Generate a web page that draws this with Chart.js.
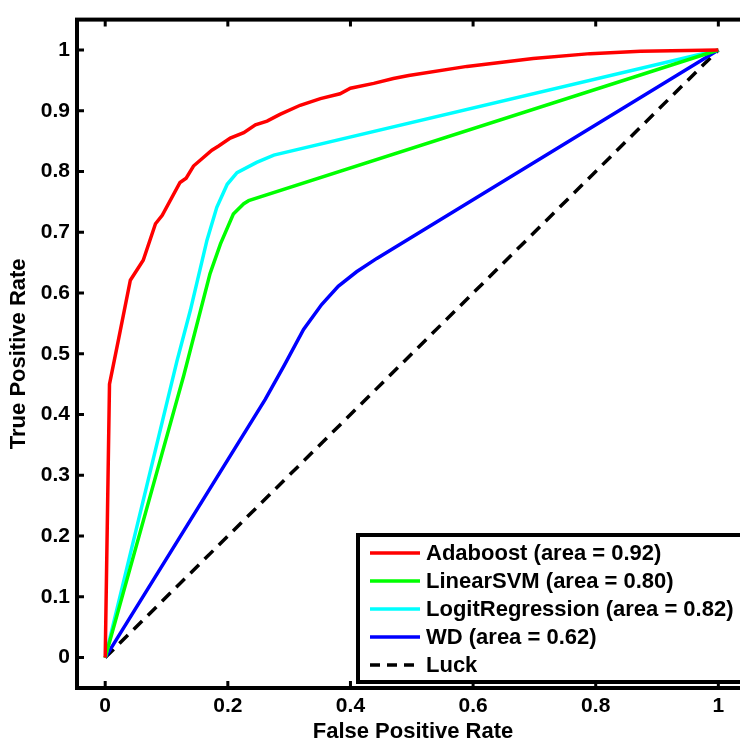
<!DOCTYPE html>
<html>
<head>
<meta charset="utf-8">
<script src="https://cdn.jsdelivr.net/npm/chart.js@4.4.0/dist/chart.umd.min.js"></script>
<style>
  html, body { margin: 0; padding: 0; background: #fff; overflow: hidden; }
  #wrap { width: 740px; height: 740px; overflow: hidden; }
</style>
</head>
<body>
<div id="wrap"><canvas id="roc" width="760" height="740"></canvas></div>
<script>
// ROC curves, values
var adaboostX = [0, 0.007, 0.021, 0.041, 0.062, 0.082, 0.093, 0.122, 0.132, 0.144, 0.174, 0.185, 0.204, 0.226, 0.245, 0.264, 0.285, 0.318, 0.351, 0.383, 0.4, 0.438, 0.47, 0.495, 0.59, 0.698, 0.791, 0.873, 1];
var adaboostY = [0, 0.45, 0.52, 0.621, 0.654, 0.714, 0.728, 0.782, 0.789, 0.809, 0.835, 0.842, 0.855, 0.864, 0.877, 0.883, 0.894, 0.909, 0.92, 0.928, 0.937, 0.945, 0.953, 0.958, 0.973, 0.986, 0.994, 0.998, 1];

var svmX = [0, 0.128, 0.171, 0.188, 0.209, 0.226, 0.234, 1];
var svmY = [0, 0.464, 0.632, 0.681, 0.73, 0.747, 0.752, 1];

var logitX = [0, 0.117, 0.139, 0.166, 0.182, 0.199, 0.215, 0.247, 0.275, 1];
var logitY = [0, 0.488, 0.572, 0.687, 0.741, 0.779, 0.798, 0.815, 0.827, 1];

var wdX = [0, 0.261, 0.292, 0.3235, 0.353, 0.38, 0.41, 0.443, 1];
var wdY = [0, 0.425, 0.481, 0.54, 0.581, 0.611, 0.635, 0.657, 1];

var luckX = [0, 1];
var luckY = [0, 1];

var labels = ["Adaboost (area = 0.92)", "LinearSVM (area = 0.80)", "LogitRegression (area = 0.82)", "WD (area = 0.62)", "Luck"];
var colors = ["#ff0000", "#00ff00", "#00ffff", "#0000ff", "#000000"];

var xTicks = [0, 0.2, 0.4, 0.6, 0.8, 1];
var yTicks = [0, 0.1, 0.2, 0.3, 0.4, 0.5, 0.6, 0.7, 0.8, 0.9, 1];

var FONT = "'Liberation Sans', Arial, Helvetica, sans-serif";

function pts(xs, ys) {
  return xs.map(function(x, i) { return { x: x, y: ys[i] }; });
}

function series(i, xs, ys, dash) {
  return {
    label: labels[i],
    data: pts(xs, ys),
    borderColor: colors[i],
    backgroundColor: colors[i],
    borderWidth: 3.5,
    borderDash: dash || [],
    showLine: true,
    pointRadius: 0,
    tension: 0,
    fill: false
  };
}

// frame, inward tick marks and the boxed legend
var matlabLook = {
  id: "matlabLook",
  afterDraw: function(chart) {
    var ctx = chart.ctx;
    var a = chart.chartArea;
    var xs = chart.scales.x, ys = chart.scales.y;
    ctx.save();
    ctx.strokeStyle = "#000";
    ctx.lineWidth = 3;
    xTicks.forEach(function(v) {
      var p = xs.getPixelForValue(v);
      ctx.beginPath();
      ctx.moveTo(p, a.bottom); ctx.lineTo(p, a.bottom - 7);
      ctx.moveTo(p, a.top); ctx.lineTo(p, a.top + 7);
      ctx.stroke();
    });
    yTicks.forEach(function(v) {
      var p = ys.getPixelForValue(v);
      ctx.beginPath();
      ctx.moveTo(a.left, p); ctx.lineTo(a.left + 7, p);
      ctx.moveTo(a.right, p); ctx.lineTo(a.right - 7, p);
      ctx.stroke();
    });
    ctx.lineWidth = 4;
    ctx.strokeRect(a.left, a.top, a.right - a.left, a.bottom - a.top);

    // legend
    var bx = 358, by = 535, bw = 420, bh = 147;
    ctx.fillStyle = "#fff";
    ctx.fillRect(bx, by, bw, bh);
    ctx.lineWidth = 4;
    ctx.strokeRect(bx, by, bw, bh);
    ctx.font = "bold 22px " + FONT;
    ctx.textBaseline = "middle";
    chart.data.datasets.forEach(function(ds, i) {
      var yy = 553 + i * 28;
      ctx.strokeStyle = ds.borderColor;
      ctx.lineWidth = 3.5;
      ctx.setLineDash(ds.borderDash.length ? [10, 7] : []);
      ctx.beginPath();
      ctx.moveTo(370, yy); ctx.lineTo(420, yy);
      ctx.stroke();
      ctx.setLineDash([]);
      ctx.fillStyle = "#000";
      ctx.fillText(ds.label, 426, yy + 1);
    });
    ctx.restore();
  }
};

var ctx = document.getElementById("roc");
var rocChart = new Chart(ctx, {
  type: "scatter",
  data: {
    datasets: [
      series(0, adaboostX, adaboostY),
      series(1, svmX, svmY),
      series(2, logitX, logitY),
      series(3, wdX, wdY),
      series(4, luckX, luckY, [12, 8])
    ]
  },
  options: {
    responsive: false,
    animation: false,
    layout: { padding: { top: 14, right: 11, left: 0, bottom: 0 } },
    plugins: {
      legend: { display: false },
      tooltip: { enabled: false }
    },
    scales: {
      x: {
        type: "linear",
        min: -0.046,
        max: 1.05,
        afterFit: function(s) { s.height = 52; },
        afterBuildTicks: function(s) {
          s.ticks = xTicks.map(function(v) { return { value: v }; });
        },
        ticks: {
          padding: 6,
          color: "#000",
          font: { family: FONT, size: 21, weight: "bold" },
          callback: function(v) { return String(+v.toFixed(1)); }
        },
        grid: { display: false, drawTicks: false, tickLength: 0 },
        border: { display: false },
        title: {
          display: true,
          text: "False Positive Rate",
          color: "#000",
          padding: { top: 0, bottom: -3 },
          font: { family: FONT, size: 22, weight: "bold", lineHeight: 1 }
        }
      },
      y: {
        type: "linear",
        min: -0.05,
        max: 1.05,
        afterFit: function(s) { s.width = 77; },
        afterBuildTicks: function(s) {
          s.ticks = yTicks.map(function(v) { return { value: v }; });
        },
        ticks: {
          padding: 7,
          color: "#000",
          font: { family: FONT, size: 21, weight: "bold" },
          callback: function(v) { return String(+v.toFixed(1)); }
        },
        grid: { display: false, drawTicks: false, tickLength: 0 },
        border: { display: false },
        title: {
          display: true,
          text: "True Positive Rate",
          color: "#000",
          padding: { top: 8, bottom: 0 },
          font: { family: FONT, size: 22, weight: "bold", lineHeight: 1 }
        }
      }
    }
  },
  plugins: [matlabLook]
});
</script>
</body>
</html>
